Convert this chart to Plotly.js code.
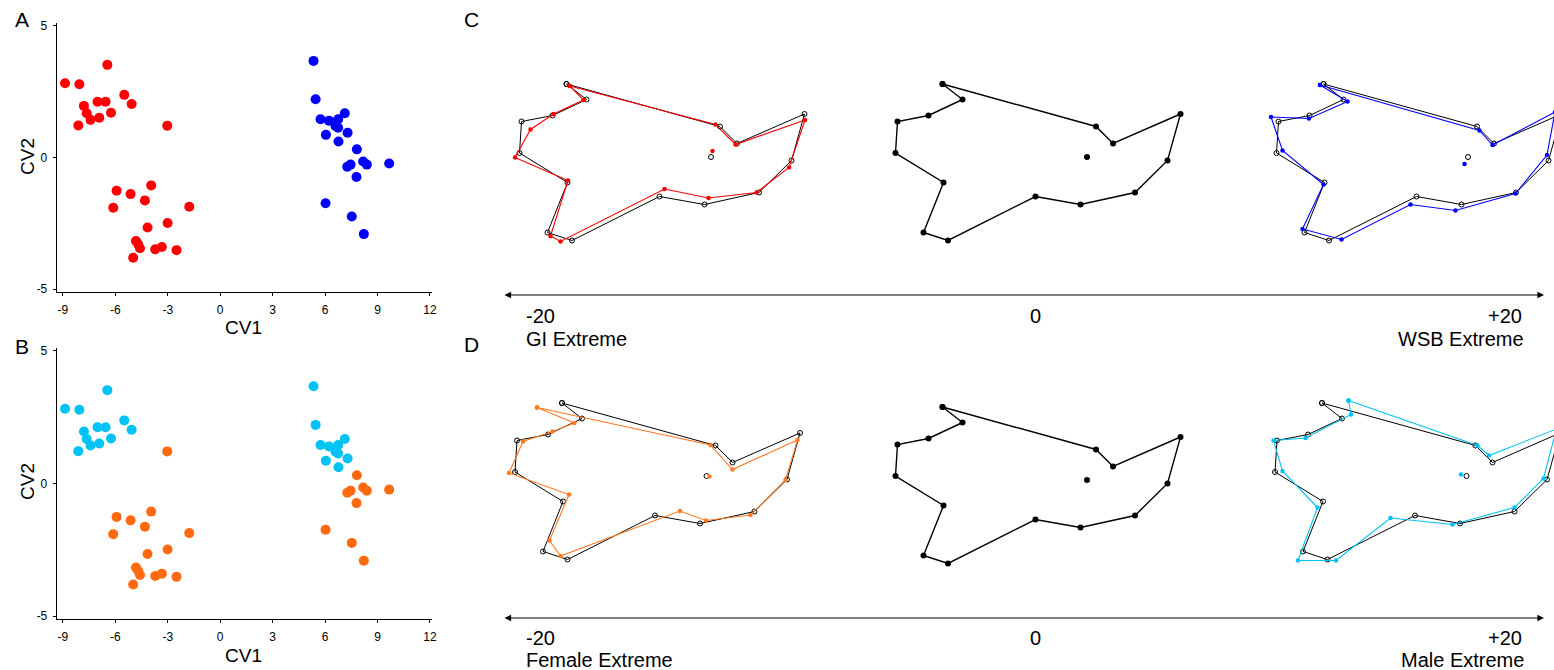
<!DOCTYPE html>
<html><head><meta charset="utf-8">
<script src="https://cdn.plot.ly/plotly-3.0.1.min.js"></script>
<style>html,body{margin:0;padding:0;background:#fff}#chart{width:1554px;height:670px}</style>
</head><body><div id="chart"></div>
<script>
// ---------- Panels A & B: canonical variate scores ----------
const cv1 = [
  -8.88,-8.06,-6.46,-5.49,-5.07,-7.80,-7.02,-6.56,-7.64,-7.42,-6.92,-6.25,-8.12,
  -3.03,-5.93,-5.13,-3.95,-4.31,-6.12,-1.77,-3.01,-4.16,-4.82,-4.69,-4.59,-3.72,-3.34,-2.50,-4.98,
  5.34,5.46,5.74,6.22,6.75,7.13,6.60,6.75,6.05,7.29,6.77,
  7.82,7.27,7.46,8.18,8.39,9.67,7.80,6.03,7.53,8.22
];
const cv2 = [
  2.82,2.78,3.52,2.38,2.03,1.96,2.12,2.12,1.68,1.43,1.51,1.70,1.22,
  1.21,-1.26,-1.39,-1.06,-1.63,-1.91,-1.87,-2.49,-2.66,-3.17,-3.30,-3.45,-3.49,-3.40,-3.52,-3.81,
  3.67,2.21,1.45,1.40,1.45,1.68,1.20,1.13,0.86,0.94,0.61,
  0.31,-0.35,-0.27,-0.15,-0.27,-0.23,-0.74,-1.74,-2.24,-2.91
];
const population = [
  'GI','GI','GI','GI','GI','GI','GI','GI','GI','GI','GI','GI','GI',
  'GI','GI','GI','GI','GI','GI','GI','GI','GI','GI','GI','GI','GI','GI','GI','GI',
  'WSB','WSB','WSB','WSB','WSB','WSB','WSB','WSB','WSB','WSB','WSB',
  'WSB','WSB','WSB','WSB','WSB','WSB','WSB','WSB','WSB','WSB'
];
const sex = [
  'M','M','M','M','M','M','M','M','M','M','M','M','M',
  'F','F','F','F','F','F','F','F','F','F','F','F','F','F','F','F',
  'M','M','M','M','M','M','M','M','M','M','M',
  'F','F','F','F','F','F','F','F','F','F'
];
const cvTicks = [-9,-6,-3,0,3,6,9,12];
const cv2Ticks = [-5,0,5];

// ---------- Panels C & D: landmark configurations (15 outline landmarks + eye) ----------
const consensusX = [-0.195,-0.155,-0.223,-0.285,-0.289,-0.193,-0.233,-0.184,-0.009,0.081,0.190,0.255,0.281,0.146,0.112];
const consensusY = [0.152,0.121,0.089,0.077,0.014,-0.045,-0.145,-0.161,-0.073,-0.089,-0.065,-0.001,0.092,0.033,0.067];
const consensusEye = [0.094,0.006];

const giExtremeX = [-0.188,-0.161,-0.221,-0.267,-0.298,-0.192,-0.227,-0.207,0.001,0.089,0.185,0.250,0.282,0.143,0.103];
const giExtremeY = [0.148,0.120,0.092,0.061,0.005,-0.041,-0.152,-0.163,-0.058,-0.076,-0.065,-0.015,0.080,0.031,0.071];
const giExtremeEye = [0.097,0.018];

const wsbExtremeX = [-0.202,-0.147,-0.224,-0.300,-0.277,-0.195,-0.237,-0.159,-0.021,0.069,0.189,0.252,0.268,0.143,0.117];
const wsbExtremeY = [0.150,0.117,0.083,0.086,0.019,-0.049,-0.138,-0.159,-0.089,-0.101,-0.067,0.010,0.096,0.030,0.059];
const wsbExtremeEye = [0.087,-0.008];

const femaleExtremeX = [-0.245,-0.170,-0.214,-0.273,-0.301,-0.181,-0.220,-0.198,0.041,0.093,0.182,0.252,0.276,0.146,0.102];
const femaleExtremeY = [0.143,0.112,0.095,0.075,0.012,-0.031,-0.123,-0.154,-0.064,-0.083,-0.072,-0.002,0.078,0.019,0.068];
const femaleExtremeEye = [0.100,0.005];

const maleExtremeX = [-0.142,-0.137,-0.228,-0.292,-0.274,-0.204,-0.243,-0.167,-0.058,0.066,0.190,0.248,0.274,0.139,0.116];
const maleExtremeY = [0.157,0.129,0.082,0.077,0.016,-0.057,-0.163,-0.163,-0.078,-0.091,-0.057,0.001,0.100,0.047,0.067];
const maleExtremeEye = [0.083,0.009];

const axisLabelsC = ['-20','0','+20','GI Extreme','WSB Extreme'];
const axisLabelsD = ['-20','0','+20','Female Extreme','Male Extreme'];

// ---------- styling ----------
const W = 1554, H = 670;
const FONT = 'Liberation Sans, Arial, Helvetica, sans-serif';
const RED = '#ff0000', BLUE = '#0000ff', CYAN = '#00c3f5', ORANGE = '#ff6a10', ORANGE_LINE = '#ff7a22';
const px = v => v / W;
const py = v => 1 - v / H;
const dom = (a, b) => [a / W, b / W];
const vdom = (top, bottom) => [1 - bottom / H, 1 - top / H];

const traces = [];
function pick(cond) {
  const x = [], y = [];
  cv1.forEach((v, i) => { if (cond(i)) { x.push(v); y.push(cv2[i]); } });
  return {x, y};
}
function scatterDots(sel, color, xa, ya) {
  traces.push({type:'scatter', mode:'markers', x: sel.x, y: sel.y, xaxis: xa, yaxis: ya,
    marker:{size:10, color: color, line:{width:0}}, hoverinfo:'x+y'});
}
// Panel A: by population
scatterDots(pick(i => population[i] === 'GI'), RED, 'x', 'y');
scatterDots(pick(i => population[i] === 'WSB'), BLUE, 'x', 'y');
// Panel B: by sex
scatterDots(pick(i => sex[i] === 'M'), CYAN, 'x2', 'y2');
scatterDots(pick(i => sex[i] === 'F'), ORANGE, 'x2', 'y2');

function closed(a) { return a.concat([a[0]]); }
function outline(xs, ys, eye, xa, ya, style) {
  traces.push({type:'scatter', mode:'lines+markers', x: closed(xs), y: closed(ys), xaxis: xa, yaxis: ya,
    line:{color: style.color, width: style.lw}, marker: style.marker, hoverinfo:'skip'});
  traces.push({type:'scatter', mode:'markers', x:[eye[0]], y:[eye[1]], xaxis: xa, yaxis: ya,
    marker: style.marker, hoverinfo:'skip'});
}
const consStyleSide = {color:'#000', lw:1, marker:{symbol:'circle-open', size:5, color:'#000', line:{width:1, color:'#000'}}};
const consStyleMid = {color:'#000', lw:1.4, marker:{symbol:'circle', size:6, color:'#000'}};
const extStyle = c => ({color:c, lw:1.1, marker:{symbol:'circle', size:4.5, color:c}});

// C
outline(consensusX, consensusY, consensusEye, 'x3', 'y3', consStyleSide);
outline(giExtremeX, giExtremeY, giExtremeEye, 'x3', 'y3', extStyle(RED));
outline(consensusX, consensusY, consensusEye, 'x4', 'y4', consStyleMid);
outline(consensusX, consensusY, consensusEye, 'x5', 'y5', consStyleSide);
outline(wsbExtremeX, wsbExtremeY, wsbExtremeEye, 'x5', 'y5', extStyle(BLUE));
// D
outline(consensusX, consensusY, consensusEye, 'x6', 'y6', consStyleSide);
outline(femaleExtremeX, femaleExtremeY, femaleExtremeEye, 'x6', 'y6', extStyle(ORANGE_LINE));
outline(consensusX, consensusY, consensusEye, 'x7', 'y7', consStyleMid);
outline(consensusX, consensusY, consensusEye, 'x8', 'y8', consStyleSide);
outline(maleExtremeX, maleExtremeY, maleExtremeEye, 'x8', 'y8', extStyle(CYAN));

const cvX = (domain, anchor) => ({domain, anchor, range:[-9.34,12.12], tickvals: cvTicks, ticktext: cvTicks.map(String),
  showline:true, linecolor:'#000', linewidth:1.3, ticks:'outside', ticklen:3, tickcolor:'#000', tickwidth:1,
  ticklabelstandoff:3, tickfont:{family:FONT, size:12, color:'#000'}, showgrid:false, zeroline:false, fixedrange:true});
const cvY = (domain, anchor) => ({domain, anchor, range:[-5.11,5.11], tickvals: cv2Ticks, ticktext: cv2Ticks.map(String),
  showline:true, linecolor:'#000', linewidth:1.3, ticks:'outside', ticklen:3, tickcolor:'#000', tickwidth:1,
  ticklabelstandoff:3, tickfont:{family:FONT, size:12, color:'#000'}, showgrid:false, zeroline:false, fixedrange:true});
const hid = (domain, anchor, range) => ({domain, anchor, range, visible:false, fixedrange:true, showgrid:false, zeroline:false});

const layout = {
  width: W, height: H, margin:{l:0, r:0, t:0, b:0}, paper_bgcolor:'#fff', plot_bgcolor:'rgba(0,0,0,0)',
  showlegend:false, font:{family:FONT, color:'#000'},
  xaxis: cvX(dom(57,432), 'y'), yaxis: cvY(vdom(23,292), 'x'),
  xaxis2: cvX(dom(57,432), 'y2'), yaxis2: cvY(vdom(348,619), 'x2'),
  xaxis3: hid(dom(484,844), 'y3', [-0.36,0.36]), yaxis3: hid(vdom(60,260), 'x3', [-0.2,0.2]),
  xaxis4: hid(dom(860,1220), 'y4', [-0.36,0.36]), yaxis4: hid(vdom(60,260), 'x4', [-0.2,0.2]),
  xaxis5: hid(dom(1241,1554), 'y5', [-0.36,(1554-1421)/500]), yaxis5: hid(vdom(60,260), 'x5', [-0.2,0.2]),
  xaxis6: hid(dom(479.5,839.5), 'y6', [-0.36,0.36]), yaxis6: hid(vdom(379,579), 'x6', [-0.2,0.2]),
  xaxis7: hid(dom(860,1220), 'y7', [-0.36,0.36]), yaxis7: hid(vdom(383,583), 'x7', [-0.2,0.2]),
  xaxis8: hid(dom(1239.5,1554), 'y8', [-0.36,(1554-1419.5)/500]), yaxis8: hid(vdom(379,579), 'x8', [-0.2,0.2]),
  annotations: []
};
const ann = layout.annotations;
function txt(text, x, y, size, xanchor, angle) {
  ann.push({xref:'paper', yref:'paper', x: px(x), y: py(y), text, showarrow:false, xanchor: xanchor || 'center',
    yanchor:'middle', textangle: angle || 0, font:{family:FONT, size, color:'#000'}});
}
// panel letters
txt('A', 22, 19, 21); txt('B', 22, 346, 21); txt('C', 471, 19, 21); txt('D', 471, 344, 21);
// axis titles
txt('CV1', 243, 327, 19); txt('CV2', 27, 157, 19, 'center', -90);
txt('CV1', 243, 655, 19); txt('CV2', 27, 482, 19, 'center', -90);
// double arrows
function dblArrow(yy) {
  ann.push({xref:'paper', yref:'paper', x: px(1544), y: py(yy), ax: -(1544-503), ay: 0, axref:'pixel', ayref:'pixel',
    text:'', showarrow:true, arrowside:'end+start', arrowhead:2, startarrowhead:2, arrowsize:1.1, startarrowsize:1.1,
    arrowwidth:1.2, arrowcolor:'#000'});
}
dblArrow(295); dblArrow(618);
// scale labels
function scaleLabels(labels, y1, y2) {
  txt(labels[0], 524, y1, 20, 'left');
  txt(labels[1], 1035, y1, 20, 'center');
  txt(labels[2], 1524, y1, 20, 'right');
  txt(labels[3], 524, y2, 20, 'left');
  txt(labels[4], 1526, y2, 20, 'right');
}
scaleLabels(axisLabelsC, 316, 339);
scaleLabels(axisLabelsD, 638, 660);

Plotly.newPlot('chart', traces, layout, {displayModeBar:false, staticPlot:true});
</script></body></html>
